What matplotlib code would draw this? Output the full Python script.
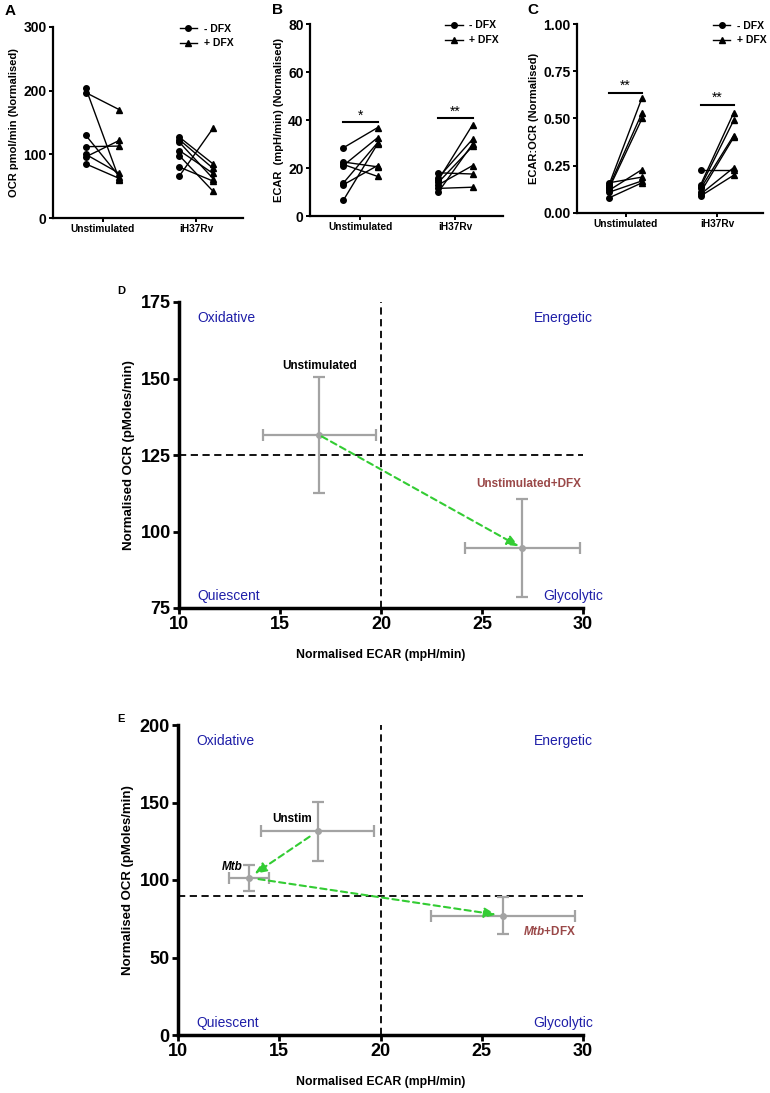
import numpy as np
import matplotlib
matplotlib.use("Agg")
import matplotlib.pyplot as plt
from matplotlib.lines import Line2D

plt.rcParams['font.family'] = ['Liberation Sans', 'DejaVu Sans']
plt.rcParams['mathtext.fontset'] = 'custom'
plt.rcParams['mathtext.it'] = 'Liberation Sans:italic:bold'
plt.rcParams['mathtext.rm'] = 'Liberation Sans:bold'

# ---- top panels: paired before/after data ----
groups = ['Unstimulated', 'iH37Rv']

ocr_unstim_minus = [204, 197, 130, 112, 100, 96, 85]
ocr_unstim_plus = [60, 170, 65, 113, 70, 122, 62]
ocr_ih37_minus = [127, 123, 119, 106, 98, 80, 66]
ocr_ih37_plus = [85, 78, 62, 70, 42, 58, 141]

ecar_unstim_minus = [28.4, 22.5, 21.5, 21.0, 13.7, 13.0, 6.5]
ecar_unstim_plus = [36.8, 20.5, 16.5, 32.6, 30.5, 21.0, 30.0]
ecar_ih37_minus = [18.0, 16.0, 15.0, 14.0, 13.0, 11.5, 10.0]
ecar_ih37_plus = [17.5, 32.0, 38.0, 29.0, 21.0, 12.0, 30.0]

ratio_unstim_minus = [0.16, 0.15, 0.14, 0.13, 0.12, 0.11, 0.08]
ratio_unstim_plus = [0.19, 0.61, 0.53, 0.50, 0.23, 0.17, 0.16]
ratio_ih37_minus = [0.23, 0.15, 0.14, 0.13, 0.11, 0.10, 0.09]
ratio_ih37_plus = [0.23, 0.53, 0.49, 0.41, 0.40, 0.24, 0.20]

# ---- energy maps ----
d_names = ['Unstimulated', 'Unstimulated+DFX']
d_ecar = [16.95, 27.0]
d_ecar_err = [2.8, 2.85]
d_ocr = [131.5, 94.5]
d_ocr_err = [19.0, 16.0]
d_ecar_mid, d_ocr_mid = 20, 125

e_names = ['Unstim', 'Mtb', 'Mtb+DFX']
e_ecar = [16.9, 13.5, 26.05]
e_ecar_err = [2.8, 1.0, 3.55]
e_ocr = [131.5, 101.5, 77.0]
e_ocr_err = [19.0, 8.5, 12.0]
e_ecar_mid, e_ocr_mid = 20, 90

W, H = 770, 1093
fig = plt.figure(figsize=(W / 100, H / 100), dpi=100)


def px_axes(x0, y0, x1, y1):
    # pixel box (top-left origin) -> figure axes
    return fig.add_axes([x0 / W, 1 - y1 / H, (x1 - x0) / W, (y1 - y0) / H])


def paired(ax, before, after, ylim, yticks, ylabel, leg_anchor, sig=None, fmt='{:.0f}'):
    off = 0.18
    for g, (mn, pl) in enumerate(zip(before, after)):
        for a, b in zip(mn, pl):
            ax.plot([g - off, g + off], [a, b], color='black', lw=1.0, zorder=2)
        ax.plot([g - off] * len(mn), mn, 'o', color='black', ms=4, zorder=3)
        ax.plot([g + off] * len(pl), pl, '^', color='black', ms=5, zorder=3)
    if sig:
        for g, (yv, star) in enumerate(sig):
            ax.plot([g - off, g + off], [yv, yv], color='black', lw=1.5)
            ax.text(g, yv, star, ha='center', va='bottom', fontsize=10)
    ax.set_xlim(-0.53, 1.5)
    ax.set_ylim(*ylim)
    ax.set_yticks(yticks)
    ax.set_yticklabels([fmt.format(t) for t in yticks], fontsize=10, fontweight='bold')
    ax.set_xticks([0, 1])
    ax.set_xticklabels(groups, fontsize=7.3, fontweight='bold')
    ax.set_ylabel(ylabel, fontsize=8, fontweight='bold', labelpad=3)
    for s in ['top', 'right']:
        ax.spines[s].set_visible(False)
    for s in ['left', 'bottom']:
        ax.spines[s].set_linewidth(1.6)
    ax.tick_params(width=1.4, length=3, pad=1.5)
    handles = [Line2D([], [], color='black', marker='o', ms=4, lw=1),
               Line2D([], [], color='black', marker='^', ms=5, lw=1)]
    ax.legend(handles, ['- DFX', '+ DFX'], loc='upper right', frameon=False,
              bbox_to_anchor=leg_anchor, borderaxespad=0, handlelength=1.7,
              handletextpad=0.6, prop={'size': 7.5, 'weight': 'bold'}, labelspacing=0.45)


axA = px_axes(53, 27, 243, 218)
paired(axA, [ocr_unstim_minus, ocr_ih37_minus], [ocr_unstim_plus, ocr_ih37_plus],
       (0, 300), [0, 100, 200, 300], 'OCR pmol/min (Normalised)', (0.97, 1.04))

axB = px_axes(310, 24, 503, 216)
paired(axB, [ecar_unstim_minus, ecar_ih37_minus], [ecar_unstim_plus, ecar_ih37_plus],
       (0, 80), [0, 20, 40, 60, 80], 'ECAR  (mpH/min) (Normalised)', (1.0, 1.04),
       sig=[(39.0, '*'), (40.7, '**')])

axC = px_axes(577, 24, 763, 213)
paired(axC, [ratio_unstim_minus, ratio_ih37_minus], [ratio_unstim_plus, ratio_ih37_plus],
       (0, 1.0), [0, 0.25, 0.5, 0.75, 1.0], 'ECAR:OCR (Normalised)', (1.04, 1.04),
       sig=[(0.635, '**'), (0.57, '**')], fmt='{:.2f}')

fig.text(5 / W, 1 - 4 / H, 'A', fontsize=11, fontweight='bold', va='top')
fig.text(272 / W, 1 - 3 / H, 'B', fontsize=11, fontweight='bold', va='top')
fig.text(527 / W, 1 - 3 / H, 'C', fontsize=11, fontweight='bold', va='top')

blue = '#1f1fa8'
red = '#9a4848'
grey = '#a3a3a3'
green = '#33cc33'


def energy(ax, ecar, ecar_err, ocr, ocr_err, xmid, ymid, ylim, yticks, right_lab):
    ax.errorbar(ecar, ocr, xerr=ecar_err, yerr=ocr_err, fmt='o', color=grey,
                ms=4, elinewidth=1.6, capsize=4, capthick=1.6, zorder=3)
    ax.axvline(xmid, color='black', ls='--', lw=1.3, dashes=(4, 2.5), zorder=1)
    ax.axhline(ymid, color='black', ls='--', lw=1.3, dashes=(4, 2.5), zorder=1)
    ax.set_xlim(10, 30)
    ax.set_ylim(*ylim)
    ax.set_xticks([10, 15, 20, 25, 30])
    ax.set_yticks(yticks)
    for lab in ax.get_xticklabels() + ax.get_yticklabels():
        lab.set_fontsize(13)
        lab.set_fontweight('bold')
    for s in ['top', 'right']:
        ax.spines[s].set_visible(False)
    for s in ['left', 'bottom']:
        ax.spines[s].set_linewidth(2.5)
    ax.tick_params(width=2.0, length=4, pad=2)
    ax.set_xlabel('Normalised ECAR (mpH/min)', fontsize=8.8, fontweight='bold', labelpad=11)
    ax.set_ylabel('Normalised OCR (pMoles/min)', fontsize=9.5, fontweight='bold', labelpad=4)
    kw = dict(color=blue, fontsize=10)
    ax.text(0.045, 0.97, 'Oxidative', transform=ax.transAxes, va='top', ha='left', **kw)
    ax.text(1.025, 0.97, 'Energetic', transform=ax.transAxes, va='top', ha='right', **kw)
    ax.text(0.045, 0.015, 'Quiescent', transform=ax.transAxes, va='bottom', ha='left', **kw)
    ax.text(right_lab, 0.015, 'Glycolytic', transform=ax.transAxes, va='bottom', ha='right', **kw)


def arrow(ax, x0, y0, x1, y1, sa=4, sb=5):
    ax.annotate('', xy=(x1, y1), xytext=(x0, y0),
                arrowprops=dict(arrowstyle='-|>,head_length=0.7,head_width=0.3', color=green,
                                lw=1.5, ls=(0, (3, 2)), shrinkA=sa, shrinkB=sb),
                zorder=4)


axD = px_axes(179, 302, 583, 608)
energy(axD, d_ecar, d_ecar_err, d_ocr, d_ocr_err, d_ecar_mid, d_ocr_mid,
       (75, 175), [75, 100, 125, 150, 175], 1.05)
arrow(axD, d_ecar[0], d_ocr[0], d_ecar[1], d_ocr[1], sa=2, sb=3)
axD.text(d_ecar[0], d_ocr[0] + d_ocr_err[0] + 1.5, d_names[0], ha='center', va='bottom',
         fontsize=8.5, fontweight='bold')
axD.text(d_ecar[1] + 0.3, d_ocr[1] + d_ocr_err[1] + 3, d_names[1], ha='center', va='bottom',
         fontsize=8.5, fontweight='bold', color=red)
fig.text(117 / W, 1 - 286 / H, 'D', fontsize=8, fontweight='bold', va='top')

axE = px_axes(178, 725, 583, 1035)
energy(axE, e_ecar, e_ecar_err, e_ocr, e_ocr_err, e_ecar_mid, e_ocr_mid,
       (0, 200), [0, 50, 100, 150, 200], 1.025)
arrow(axE, e_ecar[0], e_ocr[0], e_ecar[1], e_ocr[1], sa=7, sb=5)
arrow(axE, e_ecar[1], e_ocr[1], e_ecar[2], e_ocr[2], sa=7, sb=5)
axE.text(e_ecar[0] - 0.3, e_ocr[0] + 4, e_names[0], ha='right', va='bottom',
         fontsize=8.5, fontweight='bold')
axE.text(e_ecar[1] - 0.3, e_ocr[1] + 3, e_names[1], ha='right', va='bottom',
         fontsize=8.5, fontweight='bold', fontstyle='italic')
axE.text(e_ecar[2] + 2.3, e_ocr[2] - 10.5, r'$\mathit{Mtb}$+DFX', ha='center', va='center',
         fontsize=8.5, fontweight='bold', color=red)
fig.text(117 / W, 1 - 714 / H, 'E', fontsize=8, fontweight='bold', va='top')

fig.savefig('out.png', dpi=100)
